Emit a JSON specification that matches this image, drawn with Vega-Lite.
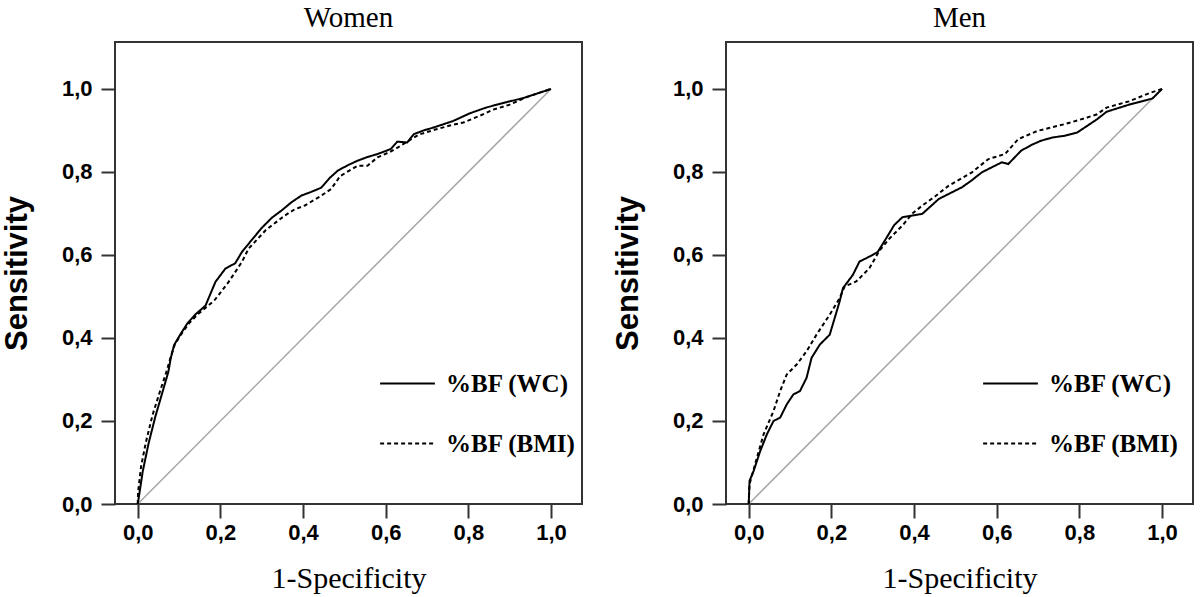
{
  "$schema": "https://vega.github.io/schema/vega-lite/v6.json",
  "background": "white",
  "padding": {"left": 0, "top": 3, "right": 0, "bottom": 0},
  "datasets": {
    "diag": [
      {"x": 0, "y": 0},
      {"x": 1, "y": 1}
    ],
    "roc": [
      {"panel": "Women", "series": "%BF (WC)", "x": 0, "y": 0},
      {"panel": "Women", "series": "%BF (WC)", "x": 0.002, "y": 0.012},
      {"panel": "Women", "series": "%BF (WC)", "x": 0.012, "y": 0.078},
      {"panel": "Women", "series": "%BF (WC)", "x": 0.026, "y": 0.145},
      {"panel": "Women", "series": "%BF (WC)", "x": 0.043, "y": 0.212},
      {"panel": "Women", "series": "%BF (WC)", "x": 0.06, "y": 0.27},
      {"panel": "Women", "series": "%BF (WC)", "x": 0.074, "y": 0.318},
      {"panel": "Women", "series": "%BF (WC)", "x": 0.08, "y": 0.352},
      {"panel": "Women", "series": "%BF (WC)", "x": 0.088, "y": 0.383},
      {"panel": "Women", "series": "%BF (WC)", "x": 0.104, "y": 0.41},
      {"panel": "Women", "series": "%BF (WC)", "x": 0.12, "y": 0.435},
      {"panel": "Women", "series": "%BF (WC)", "x": 0.14, "y": 0.457},
      {"panel": "Women", "series": "%BF (WC)", "x": 0.164, "y": 0.478},
      {"panel": "Women", "series": "%BF (WC)", "x": 0.172, "y": 0.497},
      {"panel": "Women", "series": "%BF (WC)", "x": 0.188, "y": 0.535},
      {"panel": "Women", "series": "%BF (WC)", "x": 0.212, "y": 0.567},
      {"panel": "Women", "series": "%BF (WC)", "x": 0.236, "y": 0.58},
      {"panel": "Women", "series": "%BF (WC)", "x": 0.252, "y": 0.607},
      {"panel": "Women", "series": "%BF (WC)", "x": 0.275, "y": 0.635},
      {"panel": "Women", "series": "%BF (WC)", "x": 0.3, "y": 0.665},
      {"panel": "Women", "series": "%BF (WC)", "x": 0.325, "y": 0.69},
      {"panel": "Women", "series": "%BF (WC)", "x": 0.348, "y": 0.707},
      {"panel": "Women", "series": "%BF (WC)", "x": 0.372, "y": 0.727},
      {"panel": "Women", "series": "%BF (WC)", "x": 0.396, "y": 0.743},
      {"panel": "Women", "series": "%BF (WC)", "x": 0.42, "y": 0.752},
      {"panel": "Women", "series": "%BF (WC)", "x": 0.444, "y": 0.762},
      {"panel": "Women", "series": "%BF (WC)", "x": 0.464, "y": 0.785},
      {"panel": "Women", "series": "%BF (WC)", "x": 0.484, "y": 0.803},
      {"panel": "Women", "series": "%BF (WC)", "x": 0.508, "y": 0.816},
      {"panel": "Women", "series": "%BF (WC)", "x": 0.532, "y": 0.827},
      {"panel": "Women", "series": "%BF (WC)", "x": 0.556, "y": 0.836},
      {"panel": "Women", "series": "%BF (WC)", "x": 0.58, "y": 0.843},
      {"panel": "Women", "series": "%BF (WC)", "x": 0.612, "y": 0.855},
      {"panel": "Women", "series": "%BF (WC)", "x": 0.628, "y": 0.873},
      {"panel": "Women", "series": "%BF (WC)", "x": 0.652, "y": 0.871},
      {"panel": "Women", "series": "%BF (WC)", "x": 0.668, "y": 0.891},
      {"panel": "Women", "series": "%BF (WC)", "x": 0.692, "y": 0.9},
      {"panel": "Women", "series": "%BF (WC)", "x": 0.716, "y": 0.907},
      {"panel": "Women", "series": "%BF (WC)", "x": 0.74, "y": 0.915},
      {"panel": "Women", "series": "%BF (WC)", "x": 0.764, "y": 0.923},
      {"panel": "Women", "series": "%BF (WC)", "x": 0.803, "y": 0.941},
      {"panel": "Women", "series": "%BF (WC)", "x": 0.843, "y": 0.955},
      {"panel": "Women", "series": "%BF (WC)", "x": 0.88, "y": 0.965},
      {"panel": "Women", "series": "%BF (WC)", "x": 0.933, "y": 0.978},
      {"panel": "Women", "series": "%BF (WC)", "x": 0.97, "y": 0.99},
      {"panel": "Women", "series": "%BF (WC)", "x": 1, "y": 1},
      {"panel": "Women", "series": "%BF (BMI)", "x": 0, "y": 0},
      {"panel": "Women", "series": "%BF (BMI)", "x": 0.001, "y": 0.03},
      {"panel": "Women", "series": "%BF (BMI)", "x": 0.008, "y": 0.09},
      {"panel": "Women", "series": "%BF (BMI)", "x": 0.02, "y": 0.15},
      {"panel": "Women", "series": "%BF (BMI)", "x": 0.036, "y": 0.215},
      {"panel": "Women", "series": "%BF (BMI)", "x": 0.055, "y": 0.275},
      {"panel": "Women", "series": "%BF (BMI)", "x": 0.07, "y": 0.32},
      {"panel": "Women", "series": "%BF (BMI)", "x": 0.08, "y": 0.355},
      {"panel": "Women", "series": "%BF (BMI)", "x": 0.09, "y": 0.385},
      {"panel": "Women", "series": "%BF (BMI)", "x": 0.106, "y": 0.41},
      {"panel": "Women", "series": "%BF (BMI)", "x": 0.124, "y": 0.435},
      {"panel": "Women", "series": "%BF (BMI)", "x": 0.145, "y": 0.457},
      {"panel": "Women", "series": "%BF (BMI)", "x": 0.168, "y": 0.476},
      {"panel": "Women", "series": "%BF (BMI)", "x": 0.185, "y": 0.49},
      {"panel": "Women", "series": "%BF (BMI)", "x": 0.196, "y": 0.504},
      {"panel": "Women", "series": "%BF (BMI)", "x": 0.22, "y": 0.535},
      {"panel": "Women", "series": "%BF (BMI)", "x": 0.252, "y": 0.583},
      {"panel": "Women", "series": "%BF (BMI)", "x": 0.268, "y": 0.615},
      {"panel": "Women", "series": "%BF (BMI)", "x": 0.284, "y": 0.632},
      {"panel": "Women", "series": "%BF (BMI)", "x": 0.31, "y": 0.66},
      {"panel": "Women", "series": "%BF (BMI)", "x": 0.356, "y": 0.695},
      {"panel": "Women", "series": "%BF (BMI)", "x": 0.38, "y": 0.71},
      {"panel": "Women", "series": "%BF (BMI)", "x": 0.404, "y": 0.719},
      {"panel": "Women", "series": "%BF (BMI)", "x": 0.44, "y": 0.74},
      {"panel": "Women", "series": "%BF (BMI)", "x": 0.468, "y": 0.759},
      {"panel": "Women", "series": "%BF (BMI)", "x": 0.49, "y": 0.79},
      {"panel": "Women", "series": "%BF (BMI)", "x": 0.532, "y": 0.815},
      {"panel": "Women", "series": "%BF (BMI)", "x": 0.556, "y": 0.815},
      {"panel": "Women", "series": "%BF (BMI)", "x": 0.58, "y": 0.835},
      {"panel": "Women", "series": "%BF (BMI)", "x": 0.61, "y": 0.848},
      {"panel": "Women", "series": "%BF (BMI)", "x": 0.636, "y": 0.863},
      {"panel": "Women", "series": "%BF (BMI)", "x": 0.68, "y": 0.89},
      {"panel": "Women", "series": "%BF (BMI)", "x": 0.72, "y": 0.902},
      {"panel": "Women", "series": "%BF (BMI)", "x": 0.76, "y": 0.913},
      {"panel": "Women", "series": "%BF (BMI)", "x": 0.788, "y": 0.919},
      {"panel": "Women", "series": "%BF (BMI)", "x": 0.827, "y": 0.935},
      {"panel": "Women", "series": "%BF (BMI)", "x": 0.86, "y": 0.95},
      {"panel": "Women", "series": "%BF (BMI)", "x": 0.9, "y": 0.962},
      {"panel": "Women", "series": "%BF (BMI)", "x": 0.94, "y": 0.98},
      {"panel": "Women", "series": "%BF (BMI)", "x": 1, "y": 1},
      {"panel": "Men", "series": "%BF (WC)", "x": 0, "y": 0},
      {"panel": "Men", "series": "%BF (WC)", "x": 0.001, "y": 0.03},
      {"panel": "Men", "series": "%BF (WC)", "x": 0.002, "y": 0.056},
      {"panel": "Men", "series": "%BF (WC)", "x": 0.012, "y": 0.08},
      {"panel": "Men", "series": "%BF (WC)", "x": 0.028, "y": 0.128},
      {"panel": "Men", "series": "%BF (WC)", "x": 0.044, "y": 0.168},
      {"panel": "Men", "series": "%BF (WC)", "x": 0.06, "y": 0.2},
      {"panel": "Men", "series": "%BF (WC)", "x": 0.076, "y": 0.208},
      {"panel": "Men", "series": "%BF (WC)", "x": 0.092, "y": 0.24},
      {"panel": "Men", "series": "%BF (WC)", "x": 0.108, "y": 0.264},
      {"panel": "Men", "series": "%BF (WC)", "x": 0.124, "y": 0.272},
      {"panel": "Men", "series": "%BF (WC)", "x": 0.14, "y": 0.304},
      {"panel": "Men", "series": "%BF (WC)", "x": 0.152, "y": 0.352},
      {"panel": "Men", "series": "%BF (WC)", "x": 0.172, "y": 0.384},
      {"panel": "Men", "series": "%BF (WC)", "x": 0.196, "y": 0.408},
      {"panel": "Men", "series": "%BF (WC)", "x": 0.208, "y": 0.448},
      {"panel": "Men", "series": "%BF (WC)", "x": 0.22, "y": 0.488},
      {"panel": "Men", "series": "%BF (WC)", "x": 0.228, "y": 0.52},
      {"panel": "Men", "series": "%BF (WC)", "x": 0.252, "y": 0.552},
      {"panel": "Men", "series": "%BF (WC)", "x": 0.268, "y": 0.584},
      {"panel": "Men", "series": "%BF (WC)", "x": 0.292, "y": 0.596},
      {"panel": "Men", "series": "%BF (WC)", "x": 0.312, "y": 0.607},
      {"panel": "Men", "series": "%BF (WC)", "x": 0.332, "y": 0.639},
      {"panel": "Men", "series": "%BF (WC)", "x": 0.352, "y": 0.672},
      {"panel": "Men", "series": "%BF (WC)", "x": 0.372, "y": 0.691},
      {"panel": "Men", "series": "%BF (WC)", "x": 0.396, "y": 0.695},
      {"panel": "Men", "series": "%BF (WC)", "x": 0.42, "y": 0.699},
      {"panel": "Men", "series": "%BF (WC)", "x": 0.46, "y": 0.735},
      {"panel": "Men", "series": "%BF (WC)", "x": 0.49, "y": 0.75},
      {"panel": "Men", "series": "%BF (WC)", "x": 0.516, "y": 0.763},
      {"panel": "Men", "series": "%BF (WC)", "x": 0.54, "y": 0.78},
      {"panel": "Men", "series": "%BF (WC)", "x": 0.564, "y": 0.799},
      {"panel": "Men", "series": "%BF (WC)", "x": 0.612, "y": 0.823},
      {"panel": "Men", "series": "%BF (WC)", "x": 0.628, "y": 0.819},
      {"panel": "Men", "series": "%BF (WC)", "x": 0.659, "y": 0.851},
      {"panel": "Men", "series": "%BF (WC)", "x": 0.684, "y": 0.865},
      {"panel": "Men", "series": "%BF (WC)", "x": 0.707, "y": 0.875},
      {"panel": "Men", "series": "%BF (WC)", "x": 0.735, "y": 0.883},
      {"panel": "Men", "series": "%BF (WC)", "x": 0.764, "y": 0.887},
      {"panel": "Men", "series": "%BF (WC)", "x": 0.795, "y": 0.895},
      {"panel": "Men", "series": "%BF (WC)", "x": 0.819, "y": 0.911},
      {"panel": "Men", "series": "%BF (WC)", "x": 0.843, "y": 0.927},
      {"panel": "Men", "series": "%BF (WC)", "x": 0.866, "y": 0.945},
      {"panel": "Men", "series": "%BF (WC)", "x": 0.92, "y": 0.962},
      {"panel": "Men", "series": "%BF (WC)", "x": 0.977, "y": 0.977},
      {"panel": "Men", "series": "%BF (WC)", "x": 1, "y": 1},
      {"panel": "Men", "series": "%BF (BMI)", "x": 0, "y": 0},
      {"panel": "Men", "series": "%BF (BMI)", "x": 0.001, "y": 0.03},
      {"panel": "Men", "series": "%BF (BMI)", "x": 0.002, "y": 0.048},
      {"panel": "Men", "series": "%BF (BMI)", "x": 0.02, "y": 0.112},
      {"panel": "Men", "series": "%BF (BMI)", "x": 0.036, "y": 0.168},
      {"panel": "Men", "series": "%BF (BMI)", "x": 0.06, "y": 0.224},
      {"panel": "Men", "series": "%BF (BMI)", "x": 0.076, "y": 0.272},
      {"panel": "Men", "series": "%BF (BMI)", "x": 0.092, "y": 0.312},
      {"panel": "Men", "series": "%BF (BMI)", "x": 0.116, "y": 0.336},
      {"panel": "Men", "series": "%BF (BMI)", "x": 0.14, "y": 0.368},
      {"panel": "Men", "series": "%BF (BMI)", "x": 0.164, "y": 0.408},
      {"panel": "Men", "series": "%BF (BMI)", "x": 0.196, "y": 0.456},
      {"panel": "Men", "series": "%BF (BMI)", "x": 0.22, "y": 0.496},
      {"panel": "Men", "series": "%BF (BMI)", "x": 0.232, "y": 0.524},
      {"panel": "Men", "series": "%BF (BMI)", "x": 0.26, "y": 0.536},
      {"panel": "Men", "series": "%BF (BMI)", "x": 0.292, "y": 0.568},
      {"panel": "Men", "series": "%BF (BMI)", "x": 0.316, "y": 0.61},
      {"panel": "Men", "series": "%BF (BMI)", "x": 0.34, "y": 0.639},
      {"panel": "Men", "series": "%BF (BMI)", "x": 0.372, "y": 0.671},
      {"panel": "Men", "series": "%BF (BMI)", "x": 0.396, "y": 0.7},
      {"panel": "Men", "series": "%BF (BMI)", "x": 0.42, "y": 0.719},
      {"panel": "Men", "series": "%BF (BMI)", "x": 0.452, "y": 0.742},
      {"panel": "Men", "series": "%BF (BMI)", "x": 0.484, "y": 0.767},
      {"panel": "Men", "series": "%BF (BMI)", "x": 0.54, "y": 0.799},
      {"panel": "Men", "series": "%BF (BMI)", "x": 0.58, "y": 0.831},
      {"panel": "Men", "series": "%BF (BMI)", "x": 0.62, "y": 0.843},
      {"panel": "Men", "series": "%BF (BMI)", "x": 0.652, "y": 0.879},
      {"panel": "Men", "series": "%BF (BMI)", "x": 0.699, "y": 0.899},
      {"panel": "Men", "series": "%BF (BMI)", "x": 0.764, "y": 0.915},
      {"panel": "Men", "series": "%BF (BMI)", "x": 0.819, "y": 0.931},
      {"panel": "Men", "series": "%BF (BMI)", "x": 0.843, "y": 0.939},
      {"panel": "Men", "series": "%BF (BMI)", "x": 0.866, "y": 0.955},
      {"panel": "Men", "series": "%BF (BMI)", "x": 0.92, "y": 0.97},
      {"panel": "Men", "series": "%BF (BMI)", "x": 0.97, "y": 0.99},
      {"panel": "Men", "series": "%BF (BMI)", "x": 1, "y": 1}
    ]
  },
  "spacing": 28,
  "resolve": {
    "scale": {"x": "independent", "y": "independent", "strokeDash": "independent"},
    "legend": {"strokeDash": "independent"}
  },
  "config": {
    "view": {"stroke": "#333333", "strokeWidth": 2},
    "axis": {
      "domain": false,
      "grid": false,
      "tickSize": 14,
      "tickWidth": 2,
      "tickColor": "#333333",
      "labelFont": "Liberation Sans",
      "labelFontWeight": "bold",
      "labelFontSize": 22,
      "labelColor": "black",
      "labelPadding": 9,
      "titleColor": "black"
    },
    "title": {"font": "Liberation Serif", "fontSize": 29, "fontWeight": "normal", "color": "black", "anchor": "middle", "offset": 9}
  },
  "hconcat": [
    {
      "width": 467,
      "height": 462,
      "title": {"text": "Women"},
      "layer": [
        {
          "data": {"name": "diag"},
          "mark": {"type": "line", "color": "#a6a6a6", "strokeWidth": 1.5},
          "encoding": {
            "x": {"field": "x", "type": "quantitative", "scale": {"domain": [-0.055, 1.075], "nice": false, "zero": false},
              "axis": {"values": [0, 0.2, 0.4, 0.6, 0.8, 1], "labelExpr": "replace(format(datum.value, '.1f'), '.', ',')", "labelPadding": 4, "title": "1-Specificity", "titleFont": "Liberation Serif", "titleFontSize": 30, "titleFontWeight": "normal", "titlePadding": 20}},
            "y": {"field": "y", "type": "quantitative", "scale": {"domain": [0, 1.113], "nice": false, "zero": false},
              "axis": {"values": [0, 0.2, 0.4, 0.6, 0.8, 1], "labelExpr": "replace(format(datum.value, '.1f'), '.', ',')", "title": "Sensitivity", "titleFont": "Liberation Sans", "titleFontSize": 31, "titleFontWeight": "bold", "titlePadding": 28}}
          }
        },
        {
          "data": {"name": "roc"},
          "transform": [{"filter": "datum.panel === 'Women'"}],
          "mark": {"type": "line", "color": "black", "strokeWidth": 2},
          "encoding": {
            "x": {"field": "x", "type": "quantitative"},
            "y": {"field": "y", "type": "quantitative"},
            "strokeDash": {"field": "series", "type": "nominal",
              "scale": {"domain": ["%BF (WC)", "%BF (BMI)"], "range": [[1, 0], [4, 3]]},
              "legend": {"orient": "none", "legendX": 264, "legendY": 313, "title": null, "symbolType": "stroke", "symbolSize": 3000, "symbolStrokeWidth": 2, "symbolStrokeColor": "black", "labelFont": "Liberation Serif", "labelFontSize": 25, "labelFontWeight": "bold", "labelColor": "black", "labelOffset": 10, "rowPadding": 18, "padding": 0}
            }
          }
        }
      ]
    },
    {
      "width": 467,
      "height": 462,
      "title": {"text": "Men"},
      "layer": [
        {
          "data": {"name": "diag"},
          "mark": {"type": "line", "color": "#a6a6a6", "strokeWidth": 1.5},
          "encoding": {
            "x": {"field": "x", "type": "quantitative", "scale": {"domain": [-0.055, 1.075], "nice": false, "zero": false},
              "axis": {"values": [0, 0.2, 0.4, 0.6, 0.8, 1], "labelExpr": "replace(format(datum.value, '.1f'), '.', ',')", "labelPadding": 4, "title": "1-Specificity", "titleFont": "Liberation Serif", "titleFontSize": 30, "titleFontWeight": "normal", "titlePadding": 20}},
            "y": {"field": "y", "type": "quantitative", "scale": {"domain": [0, 1.113], "nice": false, "zero": false},
              "axis": {"values": [0, 0.2, 0.4, 0.6, 0.8, 1], "labelExpr": "replace(format(datum.value, '.1f'), '.', ',')", "title": "Sensitivity", "titleFont": "Liberation Sans", "titleFontSize": 31, "titleFontWeight": "bold", "titlePadding": 28}}
          }
        },
        {
          "data": {"name": "roc"},
          "transform": [{"filter": "datum.panel === 'Men'"}],
          "mark": {"type": "line", "color": "black", "strokeWidth": 2},
          "encoding": {
            "x": {"field": "x", "type": "quantitative"},
            "y": {"field": "y", "type": "quantitative"},
            "strokeDash": {"field": "series", "type": "nominal",
              "scale": {"domain": ["%BF (WC)", "%BF (BMI)"], "range": [[1, 0], [4, 3]]},
              "legend": {"orient": "none", "legendX": 256, "legendY": 313, "title": null, "symbolType": "stroke", "symbolSize": 3000, "symbolStrokeWidth": 2, "symbolStrokeColor": "black", "labelFont": "Liberation Serif", "labelFontSize": 25, "labelFontWeight": "bold", "labelColor": "black", "labelOffset": 10, "rowPadding": 18, "padding": 0}
            }
          }
        }
      ]
    }
  ]
}
